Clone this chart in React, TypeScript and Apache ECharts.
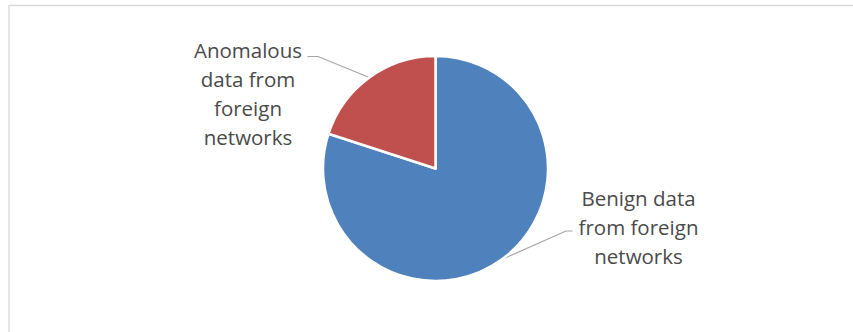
import React, { useEffect, useRef } from "react";
import * as echarts from "echarts";

const categories = ["Benign data\nfrom foreign\nnetworks", "Anomalous\ndata from\nforeign\nnetworks"];
const values = [80, 20];
const colors = ["#4f81bd", "#c0504d"];

export default function App() {
  const ref = useRef<HTMLDivElement>(null);
  useEffect(() => {
    if (!ref.current) return;
    const chart = echarts.init(ref.current, undefined, { renderer: "svg" });
    const cx = 435.5;
    const cy = 168.5;
    const r = 112.5;
    chart.setOption({
      animation: false,
      backgroundColor: "#ffffff",
      graphic: [
        {
          type: "rect",
          shape: { x: 9, y: 5.5, width: 1000, height: 1000 },
          style: { fill: "none", stroke: "#d9d9d9", lineWidth: 1.3 },
          silent: true,
        },
      ],
      series: [
        {
          type: "pie",
          center: [cx, cy],
          radius: r,
          startAngle: 90,
          clockwise: true,
          avoidLabelOverlap: false,
          itemStyle: { borderColor: "#ffffff", borderWidth: 2.5 },
          label: {
            show: true,
            position: "outside",
            formatter: "{b}",
            color: "#4a4a4a",
            fontFamily: "Open Sans",
            fontSize: 20.5,
            lineHeight: 29,
            align: "center",
          },
          labelLine: {
            show: true,
            lineStyle: { color: "#a6a6a6", width: 1.2 },
            smooth: false,
          },
          labelLayout: (params: any) => {
            const anchor = params.labelLinePoints ? params.labelLinePoints[0] : [cx, cy];
            if (params.dataIndex === 0) {
              return {
                x: cx + 203,
                y: cy + 58.5,
                align: "center",
                verticalAlign: "middle",
                labelLinePoints: [anchor, [cx + 130.5, cy + 62.5], [cx + 137, cy + 62.5]],
              };
            }
            return {
              x: cx - 187.5,
              y: cy - 75.5,
              align: "center",
              verticalAlign: "middle",
              labelLinePoints: [anchor, [cx - 117.5, cy - 112], [cx - 128, cy - 112]],
            };
          },
          data: categories.map((name, i) => ({
            name,
            value: values[i],
            itemStyle: { color: colors[i] },
          })),
        },
      ],
    });
    return () => chart.dispose();
  }, []);
  return (
    <div
      ref={ref}
      style={{ position: "fixed", left: 0, top: 0, width: 853, height: 332 }}
    />
  );
}
